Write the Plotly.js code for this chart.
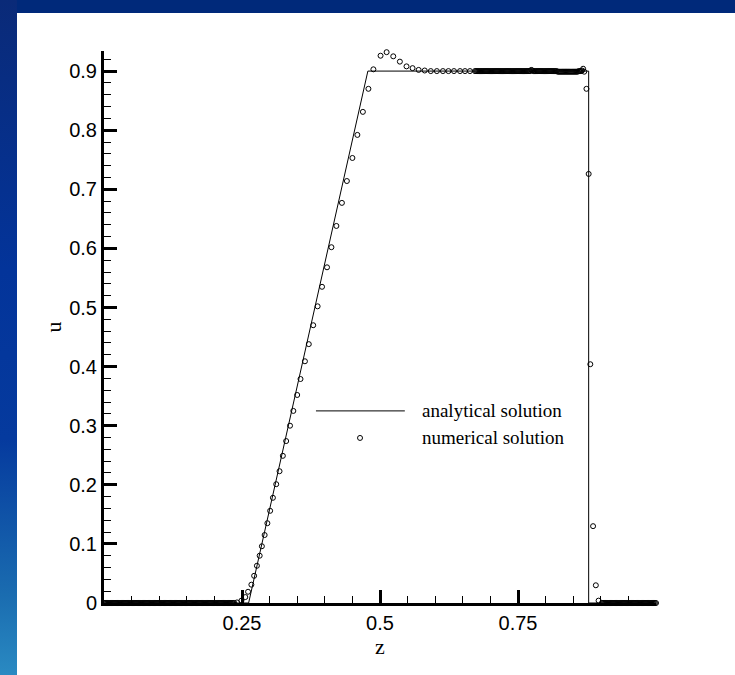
<!DOCTYPE html>
<html>
<head>
<meta charset="utf-8">
<script src="https://cdn.plot.ly/plotly-3.0.1.min.js"></script>
<style>
  html, body { margin: 0; padding: 0; width: 735px; height: 675px; overflow: hidden; }
  body { position: relative; background: #00297a; }
  #frame-left {
    position: absolute; left: 0; top: 0; width: 17px; height: 675px;
    background: linear-gradient(to bottom, #0a2a78 0%, #03349a 40%, #053a9e 65%, #1a6cb0 88%, #2a8ac2 100%);
  }
  #sheet { position: absolute; left: 17px; top: 13px; right: 0; bottom: 0; background: #ffffff; }
  #chart { position: absolute; left: 0; top: 0; width: 735px; height: 675px; }
</style>
</head>
<body>
<div id="frame-left"></div>
<div id="sheet"></div>
<div id="chart"></div>
<script>
// Exact (analytical) solution: rest state, rarefaction fan, plateau, shock
const anaZ = [0.000, 0.262, 0.478, 0.878, 0.878, 1.000];
const anaU = [0.000, 0.000, 0.900, 0.900, 0.000, 0.000];

// Numerical solution, region by region along the moving mesh
// undisturbed state ahead of the fan
const leftZ = [
  0.000,0.002,0.004,0.006,0.008,0.010,0.012,0.014,0.016,0.018,
  0.020,0.022,0.024,0.026,0.028,0.030,0.032,0.034,0.036,0.038,
  0.040,0.042,0.044,0.046,0.048,0.050,0.052,0.054,0.056,0.058,
  0.060,0.062,0.064,0.066,0.068,0.070,0.072,0.074,0.076,0.078,
  0.080,0.082,0.084,0.086,0.088,0.090,0.092,0.094,0.096,0.098,
  0.100,0.102,0.104,0.106,0.108,0.110,0.112,0.114,0.116,0.118,
  0.120,0.122,0.124,0.126,0.128,0.130,0.132,0.134,0.136,0.138,
  0.140,0.142,0.144,0.146,0.148,0.150,0.152,0.154,0.156,0.158,
  0.160,0.162,0.164,0.166,0.168,0.170,0.172,0.174,0.176,0.178,
  0.180,0.182,0.184,0.186,0.188,0.190,0.192,0.194,0.196,0.198,
  0.200,0.202,0.204,0.206,0.208,0.210,0.212,0.214,0.216,0.218,
  0.220,0.222,0.224,0.226,0.228,0.230,0.232,0.234,0.236
];
const leftU = [
  0,0,0,0,0,0,0,0,0,0, 0,0,0,0,0,0,0,0,0,0,
  0,0,0,0,0,0,0,0,0,0, 0,0,0,0,0,0,0,0,0,0,
  0,0,0,0,0,0,0,0,0,0, 0,0,0,0,0,0,0,0,0,0,
  0,0,0,0,0,0,0,0,0,0, 0,0,0,0,0,0,0,0,0,0,
  0,0,0,0,0,0,0,0,0,0, 0,0,0,0,0,0,0,0,0,0,
  0,0,0,0,0,0,0,0,0,0, 0,0,0,0,0,0,0,0,0
];

// rarefaction fan
const rampZ = [
  0.241,0.249,0.256,0.261,0.267,0.272,0.277,0.282,0.286,0.291,
  0.296,0.301,0.306,0.312,0.318,0.324,0.330,0.337,0.343,0.350,
  0.356,0.364,0.371,0.379,0.387,0.395,0.404,0.412,0.421,0.431,
  0.440,0.450,0.459,0.469,0.479
];
const rampU = [
  0.001,0.004,0.010,0.019,0.031,0.046,0.063,0.080,0.096,0.115,
  0.135,0.156,0.178,0.201,0.223,0.249,0.274,0.300,0.325,0.352,
  0.379,0.409,0.438,0.470,0.502,0.535,0.568,0.602,0.638,0.677,
  0.714,0.753,0.792,0.831,0.870
];

// overshoot after the fan head, then the plateau
const crestZ = [
  0.488,0.501,0.512,0.524,0.536,0.548,0.559,0.570,0.581,0.592,
  0.603,0.614,0.624,0.634,0.645,0.654,0.663
];
const crestU = [
  0.903,0.926,0.932,0.925,0.916,0.908,0.905,0.902,0.901,0.900,
  0.900,0.900,0.900,0.900,0.900,0.900,0.900
];
const plateauZ = [
  0.672,0.674,0.676,0.678,0.680,0.682,0.684,0.686,0.688,0.690,
  0.692,0.694,0.696,0.698,0.700,0.702,0.704,0.706,0.708,0.710,
  0.712,0.714,0.716,0.718,0.720,0.722,0.724,0.726,0.728,0.730,
  0.732,0.734,0.736,0.738,0.740,0.742,0.744,0.746,0.748,0.750,
  0.752,0.754,0.756,0.758,0.760,0.762,0.764,0.766,0.768,0.770,
  0.772,0.774,0.776,0.778,0.780,0.782,0.784,0.786,0.788,0.790,
  0.792,0.794,0.796,0.798,0.800,0.802,0.804,0.806,0.808,0.810,
  0.812,0.814,0.816,0.818,0.820,0.822,0.824,0.826,0.828,0.830,
  0.832,0.834,0.836,0.838,0.840,0.842,0.844,0.846,0.848,0.850,
  0.852,0.854,0.856,0.858,0.860,0.862,0.864,0.866,0.868,0.870
];
const plateauU = [
  0.900,0.900,0.900,0.900,0.900,0.900,0.900,0.900,0.900,0.900,
  0.900,0.900,0.900,0.900,0.900,0.900,0.900,0.900,0.900,0.900,
  0.900,0.900,0.900,0.900,0.900,0.900,0.900,0.900,0.900,0.900,
  0.900,0.900,0.900,0.900,0.900,0.900,0.900,0.900,0.900,0.900,
  0.900,0.900,0.900,0.900,0.900,0.900,0.900,0.900,0.900,0.900,
  0.900,0.902,0.901,0.900,0.900,0.900,0.900,0.900,0.900,0.900,
  0.900,0.900,0.900,0.900,0.900,0.900,0.900,0.900,0.900,0.900,
  0.900,0.900,0.900,0.900,0.900,0.899,0.899,0.899,0.899,0.899,
  0.899,0.899,0.899,0.899,0.899,0.899,0.899,0.899,0.899,0.899,
  0.899,0.899,0.899,0.899,0.900,0.900,0.900,0.901,0.904,0.899
];

// points across the shock
const shockZ = [0.874, 0.878, 0.881, 0.886, 0.891, 0.896];
const shockU = [0.870, 0.726, 0.404, 0.130, 0.030, 0.004];

// undisturbed state behind the shock
const rightZ = [
  0.902,0.904,0.906,0.908,0.910,0.912,0.914,0.916,0.918,0.920,
  0.922,0.924,0.926,0.928,0.930,0.932,0.934,0.936,0.938,0.940,
  0.942,0.944,0.946,0.948,0.950,0.952,0.954,0.956,0.958,0.960,
  0.962,0.964,0.966,0.968,0.970,0.972,0.974,0.976,0.978,0.980,
  0.982,0.984,0.986,0.988,0.990,0.992,0.994,0.996,0.998,1.000
];
const rightU = [
  0,0,0,0,0,0,0,0,0,0, 0,0,0,0,0,0,0,0,0,0,
  0,0,0,0,0,0,0,0,0,0, 0,0,0,0,0,0,0,0,0,0,
  0,0,0,0,0,0,0,0,0,0
];

// axis ticks
const xTickVals = [0.25, 0.5, 0.75];
const xTickText = ['0.25', '0.5', '0.75'];

const numZ = [].concat(leftZ, rampZ, crestZ, plateauZ, shockZ, rightZ);
const numU = [].concat(leftU, rampU, crestU, plateauU, shockU, rightU);

const sans = 'Liberation Sans, Arial, sans-serif';
const serif = 'Liberation Serif, Times New Roman, serif';

const traces = [
  {
    type: 'scatter', mode: 'lines', name: 'analytical solution',
    x: anaZ, y: anaU,
    line: { color: '#000000', width: 1 },
    cliponaxis: false, showlegend: false, hoverinfo: 'skip'
  },
  {
    type: 'scatter', mode: 'markers', name: 'numerical solution',
    x: numZ, y: numU,
    marker: { symbol: 'circle-open', size: 5, color: '#000000', line: { width: 1, color: '#000000' } },
    cliponaxis: false, showlegend: false, hoverinfo: 'skip'
  }
];

const axisCommon = {
  showline: true, linecolor: '#000000', linewidth: 3,
  ticks: 'inside', ticklen: 13, tickwidth: 3, tickcolor: '#000000',
  showgrid: false, zeroline: false, fixedrange: true,
  tickfont: { family: sans, size: 20, color: '#000000' }
};

const layout = {
  width: 735, height: 675,
  margin: { l: 104, r: 79, t: 51, b: 72, pad: 0 },
  paper_bgcolor: 'rgba(0,0,0,0)',
  plot_bgcolor: 'rgba(0,0,0,0)',
  showlegend: false,
  xaxis: Object.assign({}, axisCommon, {
    range: [0, 1],
    tickmode: 'array', tickvals: xTickVals, ticktext: xTickText,
    minor: { tickmode: 'linear', tick0: 0, dtick: 0.05, ticks: 'inside', ticklen: 7, tickwidth: 1, tickcolor: '#000000' },
    title: { text: 'z', font: { family: serif, size: 22, color: '#000000' }, standoff: 5 }
  }),
  yaxis: Object.assign({}, axisCommon, {
    range: [0, 0.934],
    tickmode: 'linear', tick0: 0, dtick: 0.1,
    minor: { tickmode: 'linear', tick0: 0, dtick: 0.02, ticks: 'inside', ticklen: 7, tickwidth: 1, tickcolor: '#000000' },
    title: { text: 'u', font: { family: serif, size: 22, color: '#000000' }, standoff: 2 }
  }),
  shapes: [
    // legend key: line sample
    { type: 'line', xref: 'paper', yref: 'paper', x0: 0.384, x1: 0.545, y0: 0.348, y1: 0.348,
      line: { color: '#000000', width: 1 } },
    // legend key: open circle
    { type: 'circle', xref: 'paper', yref: 'paper', xsizemode: 'pixel', ysizemode: 'pixel',
      xanchor: 0.4638, yanchor: 0.299, x0: -2.5, x1: 2.5, y0: -2.5, y1: 2.5,
      line: { color: '#000000', width: 1 }, fillcolor: 'rgba(0,0,0,0)' }
  ],
  annotations: [
    { xref: 'paper', yref: 'paper', x: 0.5725, y: 0.348, xanchor: 'left', yanchor: 'middle',
      text: 'analytical solution', showarrow: false,
      font: { family: serif, size: 19, color: '#000000' } },
    { xref: 'paper', yref: 'paper', x: 0.5725, y: 0.299, xanchor: 'left', yanchor: 'middle',
      text: 'numerical solution', showarrow: false,
      font: { family: serif, size: 19, color: '#000000' } }
  ]
};

Plotly.newPlot('chart', traces, layout, { staticPlot: true, displayModeBar: false });
</script>
</body>
</html>
